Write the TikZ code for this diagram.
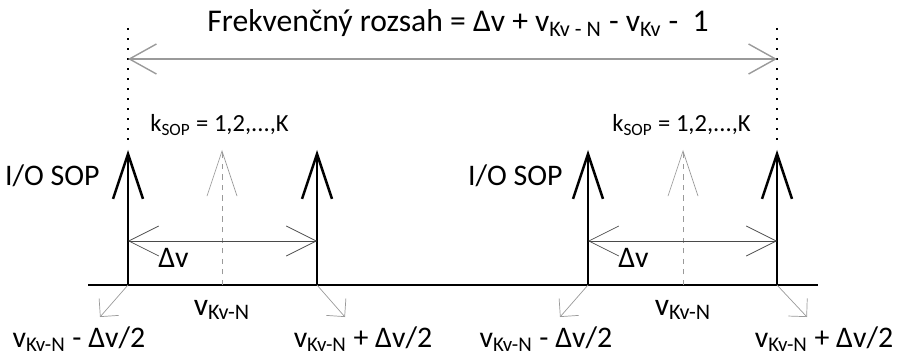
\documentclass[tikz,border=0pt]{standalone}
\usepackage{fontspec}
\setmainfont{Carlito}
\usetikzlibrary{arrows.meta}
\definecolor{lgray}{HTML}{9A9A9A}
\definecolor{dgray}{HTML}{4A4A4A}
\tikzset{
  spike/.style={line width=1.4pt, -{Straight Barb[length=9mm,width=6mm]}},
  kspike/.style={lgray, thin, dashed, -{Straight Barb[length=9mm,width=6mm]}},
  dspan/.style={dgray, thin, {Straight Barb[length=6mm,width=6mm]}-{Straight Barb[length=6mm,width=6mm]}},
  fspan/.style={lgray, line width=0.8pt, {Straight Barb[length=5.4mm,width=6mm]}-{Straight Barb[length=5.4mm,width=6mm]}},
  tilt/.style={lgray, thin, -{Straight Barb[length=2.6mm,width=5.2mm]}},
  mark line/.style={line width=1pt, dash pattern=on 1pt off 4.7pt},
  big/.style={font=\fontsize{18}{21}\selectfont, inner sep=0pt},
  lbl/.style={font=\fontsize{17}{20}\selectfont, inner sep=0pt},
  mid/.style={font=\fontsize{18}{21}\selectfont, inner sep=0pt},
  small/.style={font=\fontsize{14}{17}\selectfont, inner sep=0pt},
  iolbl/.style={font=\fontsize{17}{20}\selectfont, inner sep=0pt},
}

\begin{document}
\begin{tikzpicture}
  \useasboundingbox (0,0) rectangle (18,7.24);
  % axis and the points on it
  \coordinate (ax0) at (1.76,1.54);
  \coordinate (ax1) at (16.36,1.54);
  \coordinate (b1) at (2.56,1.54);  \coordinate (t1) at (2.56,4.24);
  \coordinate (b2) at (4.44,1.54);  \coordinate (t2) at (4.44,4.24);
  \coordinate (b3) at (6.34,1.54);  \coordinate (t3) at (6.34,4.24);
  \coordinate (b4) at (11.76,1.54); \coordinate (t4) at (11.76,4.24);
  \coordinate (b5) at (13.66,1.54); \coordinate (t5) at (13.66,4.24);
  \coordinate (b6) at (15.54,1.54); \coordinate (t6) at (15.54,4.24);
  \draw[line width=1.4pt] (ax0) -- (ax1);

  % frequency range
  \coordinate (m1) at (2.56,6.68);  \coordinate (m2) at (2.56,4.38);
  \coordinate (m3) at (15.54,6.68); \coordinate (m4) at (15.54,4.38);
  \draw[mark line] (m1) -- (m2);
  \draw[mark line] (m3) -- (m4);
  \coordinate (f1) at (2.56,6.06);
  \coordinate (f2) at (15.54,6.06);
  \draw[fspan] (f1) -- (f2);
  \node[big, anchor=base] (range) at (9.16,6.6) {Frekvenčný rozsah = Δv + v\textsubscript{Kv - N} - v\textsubscript{Kv} -~~1};

  % first group
  \draw[spike] (b1) -- (t1);
  \draw[spike] (b3) -- (t3);
  \draw[kspike] (b2) -- (t2);
  \coordinate (d1) at (2.56,2.42);
  \coordinate (d3) at (6.34,2.42);
  \draw[dspan] (d1) -- (d3);
  \node[lbl, anchor=base west] (dv1) at (3.16,1.88) {Δv};
  \node[iolbl, anchor=base east] (io1) at (2.0,3.52) {I/O SOP};
  \node[small, anchor=base west] (k1) at (3.0,4.6) {k\textsubscript{SOP} = 1,2,...,K};
  \node[mid, anchor=base] (c1) at (4.44,0.94) {v\textsubscript{Kv-N}};
  \coordinate (e1) at (2.0,0.9);
  \coordinate (e3) at (6.9,0.9);
  \draw[tilt] (b1) -- (e1);
  \draw[tilt] (b3) -- (e3);
  \node[lbl, anchor=base] (lo1) at (1.58,0.3) {v\textsubscript{Kv-N} - Δv/2};
  \node[lbl, anchor=base] (hi1) at (7.26,0.3) {v\textsubscript{Kv-N} + Δv/2};

  % second group
  \draw[spike] (b4) -- (t4);
  \draw[spike] (b6) -- (t6);
  \draw[kspike] (b5) -- (t5);
  \coordinate (d4) at (11.76,2.42);
  \coordinate (d6) at (15.54,2.42);
  \draw[dspan] (d4) -- (d6);
  \node[lbl, anchor=base west] (dv2) at (12.36,1.88) {Δv};
  \node[iolbl, anchor=base east] (io2) at (11.26,3.52) {I/O SOP};
  \node[small, anchor=base west] (k2) at (12.24,4.6) {k\textsubscript{SOP} = 1,2,...,K};
  \node[mid, anchor=base] (c2) at (13.66,0.94) {v\textsubscript{Kv-N}};
  \coordinate (e4) at (11.2,0.9);
  \coordinate (e6) at (16.14,0.9);
  \draw[tilt] (b4) -- (e4);
  \draw[tilt] (b6) -- (e6);
  \node[lbl, anchor=base] (lo2) at (10.92,0.3) {v\textsubscript{Kv-N} - Δv/2};
  \node[lbl, anchor=base] (hi2) at (16.48,0.3) {v\textsubscript{Kv-N} + Δv/2};
\end{tikzpicture}
\end{document}
